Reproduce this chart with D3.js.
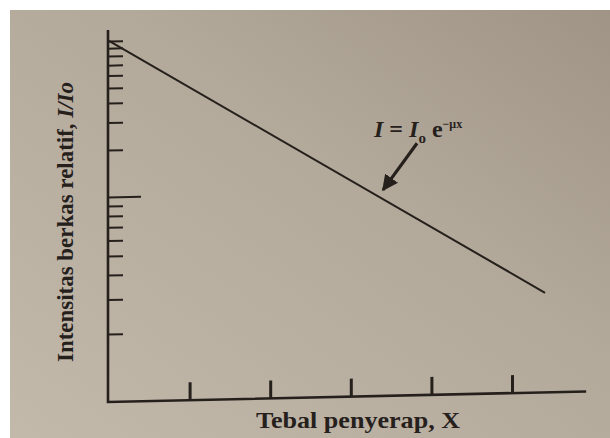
<!DOCTYPE html>
<html>
<head>
<meta charset="utf-8">
<script src="https://cdn.jsdelivr.net/npm/d3@7"></script>
<style>
  html, body { margin: 0; padding: 0; background: #ffffff; }
  svg { display: block; }
</style>
</head>
<body>
<svg id="chart" width="610" height="438"></svg>
<script>
// ---- data ----
const xTickValues = [1, 2, 3, 4, 5];
const yMinorTicks = [0.02, 0.03, 0.04, 0.05, 0.06, 0.07, 0.08, 0.09,
                     0.2, 0.3, 0.4, 0.5, 0.6, 0.7, 0.8, 0.9, 1];
const yMajorTicks = [0.1];
const thickness = [0, 5.41];      // absorber thickness X
const intensity = [1, 0.029];     // relative intensity I/Io
const xLabel = "Tebal penyerap, X";
const yLabel = "Intensitas berkas relatif, ";
const yLabelItalic = "I/Io";

// ---- setup ----
const svg = d3.select("#chart");
const W = 610, H = 438;
const ink = "#26201c";

const defs = svg.append("defs");
const grad = defs.append("linearGradient").attr("id", "bg")
  .attr("x1", "100%").attr("y1", "0%").attr("x2", "0%").attr("y2", "100%");
grad.append("stop").attr("offset", "0%").attr("stop-color", "#9f9486");
grad.append("stop").attr("offset", "40%").attr("stop-color", "#b3a99b");
grad.append("stop").attr("offset", "100%").attr("stop-color", "#c2b9ab");

svg.append("rect").attr("width", W).attr("height", H).attr("fill", "#ffffff");
svg.append("rect").attr("x", 10).attr("y", 10).attr("width", W - 10).attr("height", H - 10)
  .attr("fill", "url(#bg)");

const x = d3.scaleLinear().domain([0, 5]).range([109, 512]);
const y = d3.scaleLog().domain([0.01, 0.1, 1]).range([393, 197, 41]);

const ox = 108, oy = 402;
const g = svg.append("g")
  .attr("transform", `translate(${ox},${oy}) skewY(-1.26) translate(${-ox},${-oy})`);

// axes lines
g.append("path")
  .attr("d", `M${ox},30 L${ox},${oy} L${x(5.92)},${oy}`)
  .attr("fill", "none").attr("stroke", ink).attr("stroke-width", 2.6)
  .attr("stroke-linejoin", "miter");

// y ticks (minor)
const yAxisMinor = d3.axisLeft(y).tickValues(yMinorTicks).tickSize(-15).tickFormat("");
const gy = g.append("g").attr("transform", `translate(${ox},0)`).call(yAxisMinor);
gy.select(".domain").remove();
gy.selectAll(".tick line").attr("stroke", ink).attr("stroke-width", 2);

// y major tick
const yAxisMajor = d3.axisLeft(y).tickValues(yMajorTicks).tickSize(-33).tickFormat("");
const gy2 = g.append("g").attr("transform", `translate(${ox},0)`).call(yAxisMajor);
gy2.select(".domain").remove();
gy2.selectAll(".tick line").attr("stroke", ink).attr("stroke-width", 2);

// x ticks
const xAxis = d3.axisBottom(x).tickValues(xTickValues).tickSize(-18).tickFormat("");
const gx = g.append("g").attr("transform", `translate(0,${oy})`).call(xAxis);
gx.select(".domain").remove();
gx.selectAll(".tick line").attr("stroke", ink).attr("stroke-width", 3);

// attenuation line
const line = d3.line().x(d => x(d[0])).y(d => y(d[1]));
g.append("path")
  .datum(thickness.map((t, i) => [t, intensity[i]]))
  .attr("d", line)
  .attr("fill", "none").attr("stroke", ink).attr("stroke-width", 2);

// annotation arrow
const tipX = x(3.40), tipY = y(0.1) - 1;
defs.append("marker").attr("id", "ah").attr("viewBox", "0 0 10 10")
  .attr("refX", 9).attr("refY", 5).attr("markerWidth", 5).attr("markerHeight", 5)
  .attr("orient", "auto")
  .append("path").attr("d", "M0,0 L10,5 L0,10 Z").attr("fill", ink);
g.append("line")
  .attr("x1", tipX + 34).attr("y1", tipY - 46)
  .attr("x2", tipX).attr("y2", tipY)
  .attr("stroke", ink).attr("stroke-width", 3.2)
  .attr("marker-end", "url(#ah)");

// formula text
const ft = svg.append("text")
  .attr("x", 374).attr("y", 137)
  .attr("font-family", "Liberation Serif, serif")
  .attr("font-weight", "bold").attr("font-size", 24).attr("fill", ink);
ft.append("tspan").attr("font-style", "italic").text("I");
ft.append("tspan").text(" = ");
ft.append("tspan").attr("font-style", "italic").text("I");
ft.append("tspan").attr("font-size", 15).attr("dy", 6).text("o");
ft.append("tspan").attr("dy", -6).text(" e");
ft.append("tspan").attr("font-size", 12).attr("dy", -9).text("−μx");

// x label
svg.append("text")
  .attr("x", 358).attr("y", 428)
  .attr("text-anchor", "middle")
  .attr("font-family", "Liberation Serif, serif")
  .attr("font-weight", "bold").attr("font-size", 23).attr("fill", ink)
  .attr("textLength", 204).attr("lengthAdjust", "spacingAndGlyphs")
  .text(xLabel);

// y label
const yl = svg.append("text")
  .attr("transform", "translate(73,222) rotate(-90)")
  .attr("text-anchor", "middle")
  .attr("font-family", "Liberation Serif, serif")
  .attr("font-weight", "bold").attr("font-size", 24).attr("fill", ink)
  .attr("textLength", 280).attr("lengthAdjust", "spacingAndGlyphs");
yl.append("tspan").text(yLabel);
yl.append("tspan").attr("font-style", "italic").text(yLabelItalic);
</script>
</body>
</html>
